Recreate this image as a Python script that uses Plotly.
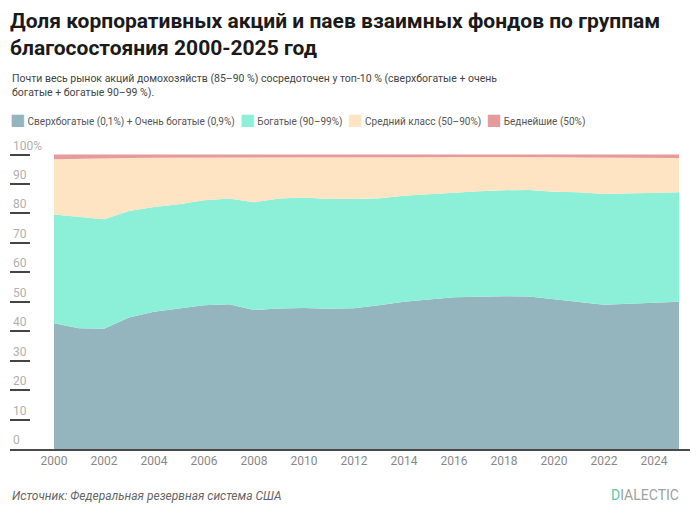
import plotly.graph_objects as go

# ---------------- data ----------------
years = list(range(2000, 2026))

top_1pct = [42.7, 41.0, 40.8, 44.7, 46.6, 47.7, 48.8, 49.2, 47.2, 47.7, 47.9, 47.6, 47.8,
            48.8, 50.0, 50.8, 51.5, 51.7, 51.9, 51.8, 50.8, 50.0, 49.0, 49.3, 49.6, 50.0]
rich_90_99 = [36.9, 37.8, 37.2, 36.1, 35.6, 35.4, 35.7, 35.9, 36.6, 37.4, 37.5, 37.3, 37.1,
              36.4, 36.0, 35.7, 35.6, 35.8, 36.0, 36.2, 36.6, 37.2, 37.6, 37.5, 37.4, 37.2]
middle_50_90 = [18.8, 19.8, 20.7, 18.0, 16.7, 15.8, 14.5, 13.9, 15.2, 13.9, 13.6, 14.1, 14.1,
                13.9, 13.1, 12.6, 12.1, 11.7, 11.4, 11.2, 11.7, 11.8, 12.3, 12.1, 11.8, 11.6]
bottom_50 = [1.6, 1.4, 1.3, 1.2, 1.1, 1.1, 1.0, 1.0, 1.0, 1.0, 1.0, 1.0, 1.0,
             0.9, 0.9, 0.9, 0.8, 0.8, 0.7, 0.8, 0.9, 1.0, 1.1, 1.1, 1.2, 1.2]

series_names = ["Сверхбогатые (0,1%) + Очень богатые (0,9%)", "Богатые (90–99%)",
                "Средний класс (50–90%)", "Беднейшие (50%)"]
series_values = [top_1pct, rich_90_99, middle_50_90, bottom_50]
series_colors = ["#94b4be", "#8cf0d9", "#fee4c2", "#e59a9b"]

x_tick_vals = list(range(2000, 2025, 2))
y_tick_vals = [0, 10, 20, 30, 40, 50, 60, 70, 80, 90, 100]
y_tick_text = ["0", "10", "20", "30", "40", "50", "60", "70", "80", "90", "100%"]

title_text = "<b>Доля корпоративных акций и паев взаимных фондов по группам<br>благосостояния 2000-2025 год</b>"
subtitle_text = ("Почти весь рынок акций домохозяйств (85–90 %) сосредоточен у топ-10 % (сверхбогатые + очень<br>"
                 "богатые + богатые 90–99 %).")
source_text = "<i>Источник: Федеральная резервная система США</i>"

W, H = 700, 513
ML, MR, MT, MB = 10, 10, 131, 64
PW, PH = W - ML - MR, H - MT - MB


def px_x(X):
    return (X - ML) / PW


def px_y(Y):
    return (H - MB - Y) / PH


fig = go.Figure()
for name, vals, col in zip(series_names, series_values, series_colors):
    fig.add_trace(go.Scatter(
        x=years, y=vals, name=name, mode="lines", stackgroup="one",
        line=dict(width=0, color=col), fillcolor=col, hoverinfo="skip",
        showlegend=False))

# compact legend (swatch glyph + label), built from the series lists
legend_parts = []
for name, col in zip(series_names, series_colors):
    legend_parts.append(
        f"<span style='font-family:DejaVu Sans;font-size:16px;color:{col}'>■</span> {name}")
legend_text = "&nbsp;&nbsp;".join(legend_parts)

fig.update_layout(
    width=W, height=H,
    margin=dict(l=ML, r=MR, t=MT, b=MB, autoexpand=False),
    paper_bgcolor="white", plot_bgcolor="white",
    font=dict(family="Roboto", color="#333"),
    title=dict(text=title_text, x=10/W, xanchor="left", xref="container",
               y=1 - 28/H, yanchor="middle", yref="container",
               font=dict(family="Roboto", size=21, color="#1a1a1a")),
    showlegend=False,
    xaxis=dict(range=[1998.24, 2025.44], tickvals=x_tick_vals, showgrid=False, zeroline=False,
               showline=True, linecolor="#4a4a4a", linewidth=2, ticks="", automargin=False,
               tickfont=dict(family="Roboto", size=12, color="#888")),
    yaxis=dict(range=[0, 108], tickvals=y_tick_vals, ticktext=y_tick_text, showgrid=False,
               zeroline=False, showline=False, ticks="inside", ticklen=20, tickwidth=1.5,
               tickcolor="#444", ticklabelposition="inside top", automargin=False,
               tickfont=dict(family="Roboto", size=12, color="#b0b0b0")),
    annotations=[
        dict(text=subtitle_text, xref="paper", yref="paper", x=px_x(10), y=px_y(85),
             xanchor="left", yanchor="middle", align="left", showarrow=False,
             font=dict(family="Roboto", size=10.5, color="#444")),
        dict(text=legend_text, xref="paper", yref="paper", x=px_x(8), y=px_y(120),
             xanchor="left", yanchor="middle", align="left", showarrow=False,
             font=dict(family="Roboto", size=10, color="#555")),
        dict(text=source_text, xref="paper", yref="paper", x=px_x(10), y=px_y(496),
             xanchor="left", yanchor="middle", showarrow=False,
             font=dict(family="Roboto", size=12, color="#666")),
        dict(text="<span style='color:#5cc9a7'>D</span>IALECTIC", xref="paper", yref="paper",
             x=px_x(681), y=px_y(495), xanchor="right", yanchor="middle",
             showarrow=False, font=dict(family="Roboto", size=14, color="#a0a0a0")),
    ],
)

fig.write_html("out.html", config={"displayModeBar": False},
               post_script="document.body.style.margin='0';")
